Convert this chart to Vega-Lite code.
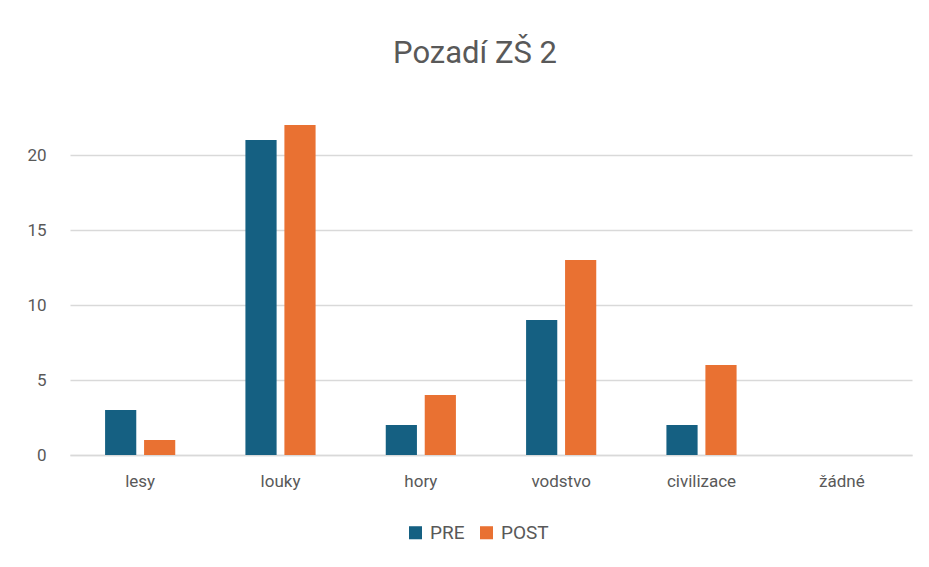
{
  "$schema": "https://vega.github.io/schema/vega-lite/v6.json",
  "autosize": "none",
  "width": 842,
  "height": 375,
  "padding": {"left": 70, "top": 80, "right": 17, "bottom": 112},
  "background": "white",
  "title": {
    "text": "Pozadí ZŠ 2",
    "font": "Roboto",
    "fontSize": 31,
    "fontWeight": "normal",
    "color": "#595959",
    "anchor": "middle",
    "dx": -16,
    "offset": 10
  },
  "data": {
    "values": [
      {"kategorie": "lesy", "serie": "PRE", "pocet": 3},
      {"kategorie": "lesy", "serie": "POST", "pocet": 1},
      {"kategorie": "louky", "serie": "PRE", "pocet": 21},
      {"kategorie": "louky", "serie": "POST", "pocet": 22},
      {"kategorie": "hory", "serie": "PRE", "pocet": 2},
      {"kategorie": "hory", "serie": "POST", "pocet": 4},
      {"kategorie": "vodstvo", "serie": "PRE", "pocet": 9},
      {"kategorie": "vodstvo", "serie": "POST", "pocet": 13},
      {"kategorie": "civilizace", "serie": "PRE", "pocet": 2},
      {"kategorie": "civilizace", "serie": "POST", "pocet": 6},
      {"kategorie": "žádné", "serie": "PRE", "pocet": 0},
      {"kategorie": "žádné", "serie": "POST", "pocet": 0}
    ]
  },
  "mark": {"type": "bar"},
  "encoding": {
    "x": {
      "field": "kategorie",
      "type": "nominal",
      "sort": ["lesy", "louky", "hory", "vodstvo", "civilizace", "žádné"],
      "scale": {"paddingInner": 0.5, "paddingOuter": 0.25},
      "axis": {
        "title": null,
        "labelAngle": 0,
        "labelFont": "Roboto",
        "labelFontSize": 17,
        "labelColor": "#595959",
        "labelPadding": 18,
        "ticks": false,
        "domainColor": "#d9d9d9",
        "domainWidth": 1.5,
        "grid": false
      }
    },
    "xOffset": {
      "field": "serie",
      "type": "nominal",
      "sort": ["PRE", "POST"],
      "scale": {"paddingInner": 0.2}
    },
    "y": {
      "field": "pocet",
      "type": "quantitative",
      "scale": {"domain": [0, 25], "nice": false},
      "axis": {
        "title": null,
        "values": [0, 5, 10, 15, 20],
        "labelFont": "Roboto",
        "labelFontSize": 17,
        "labelColor": "#595959",
        "labelPadding": 24,
        "ticks": false,
        "domain": false,
        "gridColor": "#d9d9d9",
        "gridWidth": 1.5
      }
    },
    "color": {
      "field": "serie",
      "type": "nominal",
      "sort": ["PRE", "POST"],
      "scale": {"domain": ["PRE", "POST"], "range": ["#156082", "#E97132"]},
      "legend": {
        "title": null,
        "orient": "none",
        "direction": "horizontal",
        "legendX": 336,
        "legendY": 443,
        "symbolType": "square",
        "symbolSize": 170,
        "labelFont": "Roboto",
        "labelFontSize": 19,
        "labelColor": "#595959",
        "columnPadding": 12,
        "labelOffset": 5
      }
    }
  },
  "config": {"view": {"stroke": null}}
}
